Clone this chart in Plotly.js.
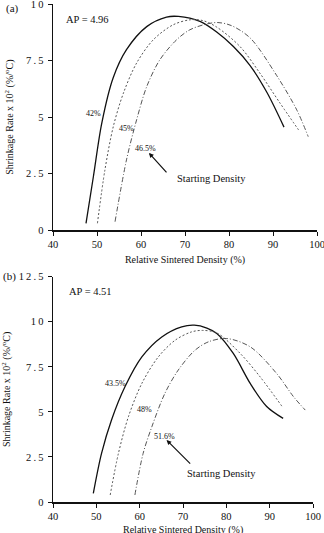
<!DOCTYPE html>
<html>
<head>
<meta charset="utf-8">
<script src="https://cdn.plot.ly/plotly-3.0.1.min.js"></script>
<style>html,body{margin:0;padding:0;background:#fff;}#chart{width:324px;height:533px;}</style>
</head>
<body>
<div id="chart"></div>
<script>
// Panel (a), AP = 4.96
const a42x = [47.5, 49.2, 51.1, 53.7, 56.7, 61.3, 65.8, 68.5, 73.4, 77.2, 81.0, 84.8, 88.6, 92.5];
const a42y = [0.31, 2.4, 4.75, 6.75, 7.98, 9.0, 9.42, 9.45, 9.23, 8.76, 8.12, 7.28, 6.1, 4.56];
const a45x = [50.1, 51.8, 53.7, 56.0, 59.0, 62.8, 67.3, 71.1, 74.0, 77.2, 82.5, 87.0, 91.6, 95.8];
const a45y = [0.31, 2.67, 4.58, 6.06, 7.39, 8.42, 9.08, 9.3, 9.27, 8.98, 8.12, 6.95, 5.62, 4.44];
const a465x = [54.1, 56.7, 59.0, 61.3, 64.3, 68.1, 71.1, 75.0, 77.5, 80.5, 84.8, 90.8, 95.4, 98.0];
const a465y = [0.38, 3.11, 4.88, 6.35, 7.54, 8.42, 8.86, 9.12, 9.18, 9.05, 8.5, 6.85, 5.32, 4.14];
// Panel (b), AP = 4.51
const b435x = [49.3, 51.2, 53.5, 56.6, 60.5, 65.1, 69.7, 72.6, 75.5, 77.8, 81.6, 85.5, 89.3, 93.1];
const b435y = [0.48, 2.7, 4.55, 6.39, 8.05, 9.16, 9.72, 9.81, 9.65, 9.35, 8.24, 6.58, 5.3, 4.64];
const b48x = [53.2, 55.1, 57.4, 60.5, 64.3, 68.2, 72.0, 74.5, 77.8, 83.2, 87.8, 92.8];
const b48y = [0.39, 2.7, 4.73, 6.58, 8.05, 8.98, 9.44, 9.52, 9.38, 8.24, 6.94, 5.32];
const b516x = [58.9, 60.8, 62.8, 65.8, 68.9, 72.8, 76.0, 80.1, 85.5, 91.6, 95.5, 98.2];
const b516y = [0.39, 2.7, 4.17, 6.02, 7.32, 8.43, 8.9, 9.07, 8.61, 7.13, 5.84, 5.1];

const xTicks = [40, 50, 60, 70, 80, 90, 100];
const yTicksA = [0, 2.5, 5, 7.5, 10];
const yTickTextA = ['0', '2\u2009.\u20095', '5', '7\u2009.\u20095', '1\u20090'];
const yTicksB = [0, 2.5, 5, 7.5, 10, 12.5];
const yTickTextB = ['0', '2\u2009.\u20095', '5', '7\u2009.\u20095', '1\u20090', '1\u20092\u2009.\u20095'];

const serif = 'Liberation Serif, Times New Roman, serif';
const solid = {color: '#111', width: 1.3, dash: 'solid', shape: 'spline', smoothing: 0.9};
const dotted = {color: '#555', width: 1, dash: '2px,2px', shape: 'spline', smoothing: 0.9};
const dashdot = {color: '#555', width: 1, dash: '5px,2px,1px,2px', shape: 'spline', smoothing: 0.9};

function tr(x, y, line, xa, ya, name) {
  return {x: x, y: y, mode: 'lines', line: line, xaxis: xa, yaxis: ya, name: name, showlegend: false, hoverinfo: 'skip'};
}

const data = [
  tr(a42x, a42y, solid, 'x', 'y', '42%'),
  tr(a45x, a45y, dotted, 'x', 'y', '45%'),
  tr(a465x, a465y, dashdot, 'x', 'y', '46.5%'),
  tr(b435x, b435y, solid, 'x2', 'y2', '43.5%'),
  tr(b48x, b48y, dotted, 'x2', 'y2', '48%'),
  tr(b516x, b516y, dashdot, 'x2', 'y2', '51.6%')
];

const axFont = {family: serif, size: 10.5, color: '#111'};
const titleFont = {family: serif, size: 10, color: '#111'};
function xaxis(domain, anchor, withTitle) {
  const ax = {
    domain: domain, anchor: anchor, range: [40, 100], tickvals: xTicks, ticks: 'outside', ticklen: 4,
    tickwidth: 1, tickcolor: '#111', showline: true, linecolor: '#111', linewidth: 1.5, showgrid: false,
    zeroline: false, tickfont: axFont, ticklabeloverflow: 'allow'
  };
  if (withTitle) ax.title = {text: 'Relative Sintered Density (%)', font: titleFont, standoff: 6};
  return ax;
}
function yaxis(domain, anchor, range, vals, text) {
  return {
    domain: domain, anchor: anchor, range: range, tickvals: vals, ticktext: text, ticks: 'outside', ticklen: 4,
    tickwidth: 1, tickcolor: '#111', showline: true, linecolor: '#111', linewidth: 1.5, showgrid: false,
    zeroline: false, tickfont: axFont, ticklabeloverflow: 'allow', ticklabelstandoff: 2,
    title: {text: 'Shrinkage Rate x 10<sup>2</sup> (%/<sup>o</sup>C)', font: titleFont, standoff: 10}
  };
}

const lblFont = {family: serif, size: 8, color: '#111'};
const txtFont = {family: serif, size: 10.5, color: '#111'};
const panelFont = {family: serif, size: 11, color: '#111'};
function note(text, x, y, xr, yr, font, xanchor) {
  return {text: text, x: x, y: y, xref: xr, yref: yr, showarrow: false, font: font, xanchor: xanchor || 'center', yanchor: 'middle'};
}
function arrow(x, y, ax, ay, xr, yr) {
  return {text: '', x: x, y: y, ax: ax, ay: ay, xref: xr, yref: yr, axref: xr, ayref: yr,
    showarrow: true, arrowhead: 2, arrowsize: 0.8, arrowwidth: 1.2, arrowcolor: '#111', standoff: 0};
}

const layout = {
  width: 324, height: 533,
  margin: {l: 53, r: 7, t: 4, b: 31},
  paper_bgcolor: '#fff', plot_bgcolor: '#fff',
  xaxis: xaxis([0, 1], 'y', true),
  yaxis: yaxis([0.5456, 1], 'x', [0, 10], yTicksA, yTickTextA),
  xaxis2: xaxis([0, 0.985], 'y2', false),
  yaxis2: yaxis([0, 0.4524], 'x2', [0, 12.5], yTicksB, yTickTextB),
  annotations: [
    note('(a)', -0.155, 0.99, 'paper', 'paper', panelFont),
    note('AP = 4.96', 42.5, 9.3, 'x', 'y', txtFont, 'left'),
    note('42%', 49.3, 5.18, 'x', 'y', lblFont),
    note('45%', 56.6, 4.48, 'x', 'y', lblFont),
    note('46.5%', 61.1, 3.6, 'x', 'y', lblFont),
    note('Starting Density', 67.7, 2.31, 'x', 'y', txtFont, 'left'),
    arrow(61.8, 3.42, 66.1, 2.49, 'x', 'y'),
    note('(b)', -0.163, 0.452, 'paper', 'paper', panelFont),
    note('AP = 4.51', 43.2, 11.7, 'x2', 'y2', txtFont, 'left'),
    note('43.5%', 54.5, 6.6, 'x2', 'y2', lblFont),
    note('48%', 61.2, 5.15, 'x2', 'y2', lblFont),
    note('51.6%', 65.8, 3.66, 'x2', 'y2', lblFont),
    note('Starting Density', 70.5, 1.6, 'x2', 'y2', txtFont, 'left'),
    arrow(66.2, 3.44, 72.0, 2.05, 'x2', 'y2'),
    note('Relative Sintered Density (%)', 0.4924, -0.056, 'paper', 'paper', titleFont)
  ]
};

Plotly.newPlot('chart', data, layout, {staticPlot: true, displayModeBar: false});
</script>
</body>
</html>
